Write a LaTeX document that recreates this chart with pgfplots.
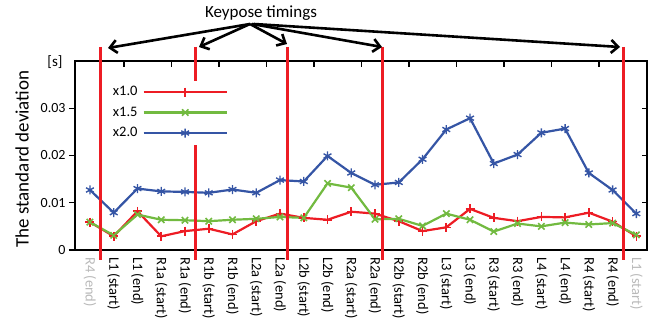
\documentclass[border=0pt]{standalone}
\usepackage{fontspec}
\setmainfont{Carlito}
\usepackage{pgfplots}
\pgfplotsset{compat=1.18}
\usetikzlibrary{arrows.meta}
\definecolor{cred}{RGB}{237,28,36}
\definecolor{cgreen}{RGB}{114,186,64}
\definecolor{cblue}{RGB}{53,85,165}
\definecolor{lgray}{RGB}{185,185,185}
\begin{document}
\begin{tikzpicture}
\useasboundingbox (0,0) rectangle (662bp,322bp);
\begin{axis}[
  at={(75bp,72bp)}, anchor=south west,
  scale only axis, width=572bp, height=189bp,
  xmin=-0.63, xmax=23.45, ymin=0, ymax=0.04,
  clip=false,
  scaled y ticks=false,
  axis line style={line width=1.5bp},
  xtick={0,...,23},
  xticklabels={{\color{lgray}R4 (end)},L1 (start),L1 (end),R1a (start),R1a (end),R1b (start),R1b (end),L2a (start),L2a (end),L2b (start),L2b (end),R2a (start),R2a (end),R2b (start),R2b (end),L3 (start),L3 (end),R3 (start),R3 (end),L4 (start),L4 (end),R4 (start),R4 (end),{\color{lgray}L1 (start)}},
  major x tick style={draw=none},
  xticklabel style={font=\fontsize{14.5bp}{16bp}\selectfont, inner sep=0pt, yshift=-7bp, rotate=-90, anchor=west},
  ytick={0,0.01,0.02,0.03},
  yticklabels={0,0.01,0.02,0.03},
  ytick pos=left,
  ytick align=outside,
  major tick length=6bp,
  major y tick style={line width=1.2bp, black},
  yticklabel style={font=\fontsize{14bp}{16bp}\selectfont},
  legend cell align=right,
  legend plot pos=right,
  legend style={at={(0.2762,0.7275)}, anchor=east, draw=none, fill=white, inner sep=5bp,
    font=\fontsize{14.5bp}{16bp}\selectfont, row sep=7.5bp, column sep=5bp,
    nodes={inner sep=0pt, text height=10bp, text depth=3bp}},
  legend image code/.code={\draw[mark repeat=2,mark phase=2,#1] plot coordinates {(0bp,0bp) (41.5bp,0bp) (83bp,0bp)};},
  every axis plot/.append style={line width=2.2bp, mark size=4.5bp},
]
\addplot[cred, mark=+, mark options={line width=1.6bp}] coordinates {
(0,0.0059) (1,0.0029) (2,0.0082) (3,0.0029) (4,0.0040) (5,0.0045) (6,0.0033) (7,0.0061)
(8,0.0077) (9,0.0068) (10,0.0064) (11,0.0081) (12,0.0077) (13,0.0061) (14,0.0040) (15,0.0048)
(16,0.0087) (17,0.0068) (18,0.0061) (19,0.0070) (20,0.0069) (21,0.0079) (22,0.0060) (23,0.0029)};
\addlegendentry{x1.0}
\addplot[cgreen, mark=x, mark options={line width=1.6bp}] coordinates {
(0,0.0059) (1,0.0031) (2,0.0075) (3,0.0064) (4,0.0063) (5,0.0061) (6,0.0064) (7,0.0066)
(8,0.0070) (9,0.0068) (10,0.0141) (11,0.0132) (12,0.0065) (13,0.0066) (14,0.0051) (15,0.0077)
(16,0.0064) (17,0.0039) (18,0.0056) (19,0.0050) (20,0.0058) (21,0.0054) (22,0.0057) (23,0.0032)};
\addlegendentry{x1.5}
\addplot[cblue, mark=asterisk, mark options={line width=1.4bp}] coordinates {
(0,0.0127) (1,0.0079) (2,0.0130) (3,0.0124) (4,0.0123) (5,0.0121) (6,0.0128) (7,0.0121)
(8,0.0148) (9,0.0145) (10,0.0199) (11,0.0163) (12,0.0138) (13,0.0143) (14,0.0192) (15,0.0255)
(16,0.0279) (17,0.0183) (18,0.0202) (19,0.0248) (20,0.0257) (21,0.0163) (22,0.0127) (23,0.0077)};
\addlegendentry{x2.0}
% right-hand inward ticks
\pgfplotsinvokeforeach{0.01,0.02,0.03}{\draw[line width=1.2bp] (axis cs:23.45,#1) -- ([xshift=-5bp]axis cs:23.45,#1);}
% top inward ticks
\pgfplotsinvokeforeach{1.43,3.43,5.43,7.43,9.43,11.43,13.43,15.43,17.43,19.43,21.43}{\draw[line width=1.2bp] (axis cs:#1,0.04) -- ([yshift=-6bp]axis cs:#1,0.04);}
% keypose timing lines
\pgfplotsinvokeforeach{0.46,4.46,8.32,12.33,22.48}{\draw[cred, line width=3bp] (axis cs:#1,0.0430) -- (axis cs:#1,-0.0021);}
\end{axis}
\node[font=\fontsize{17bp}{19bp}\selectfont] at (261bp,309bp) {Keypose timings};
\begin{scope}[line width=2.6bp, -{Straight Barb[length=7bp,width=13bp]}]
\draw (250bp,298bp) -- (108bp,274bp);
\draw (250bp,298bp) -- (199bp,275bp);
\draw (250bp,298bp) -- (287bp,278bp);
\draw (252bp,298bp) -- (382bp,275bp);
\draw (254bp,298bp) -- (620bp,275bp);
\end{scope}
\node[font=\fontsize{15bp}{17bp}\selectfont] at (55bp,260bp) {[s]};
\node[font=\fontsize{19bp}{21bp}\selectfont, rotate=90] at (22bp,163bp) {The standard deviation};
\end{tikzpicture}
\end{document}
